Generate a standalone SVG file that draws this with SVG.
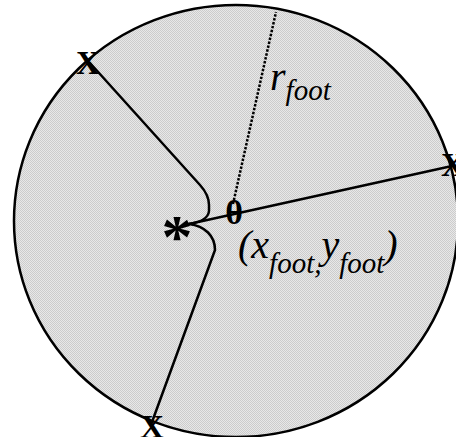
<svg xmlns="http://www.w3.org/2000/svg" width="456" height="437" viewBox="0 0 456 437">
<defs>
<pattern id="dots" width="2" height="2" patternUnits="userSpaceOnUse">
<rect width="2" height="2" fill="#e8e8e8"/>
<rect width="1" height="1" fill="#cccccc"/>
<rect x="1" y="1" width="1" height="1" fill="#cccccc"/>
</pattern>
<style>
.edge{fill:none;stroke:#000;stroke-width:2.5;stroke-linejoin:round;stroke-linecap:round}
.dot{fill:none;stroke:#000;stroke-width:2.5;stroke-dasharray:2.5 1.5}
.mark{font-family:"Liberation Serif","Times New Roman",serif;font-weight:bold;fill:#000;text-anchor:middle}
.lbl{font-family:"Liberation Serif","Times New Roman",serif;font-style:italic;fill:#000}
</style>
</defs>
<rect width="456" height="437" fill="#fff"/>
<g id="foot">
<ellipse cx="236" cy="221" rx="222" ry="216" fill="url(#dots)" stroke="#000" stroke-width="2.5"/>
</g>
<g id="connectors">
<path class="edge" d="M 90 63 L 200 185 Q 209 195 209 205 L 209 211 Q 208 221 189 224"/>
<path class="edge" d="M 189 224 C 205 226 215 236 215 250 L 152 422"/>
<path class="edge" d="M 189 224 L 452 166"/>
<path class="dot" d="M 233 204 L 276 12"/>
</g>
<g id="x1"><text class="mark" x="88" y="74" font-size="33">X</text></g>
<g id="x2"><text class="mark" x="453" y="176" font-size="33">X</text></g>
<g id="x3"><text class="mark" x="152" y="438" font-size="33">X</text></g>
<g id="star"><text class="mark" x="177" y="257" font-size="62">*</text></g>
<g id="center"><text class="mark" x="234" y="224" font-size="34">θ</text></g>
<g id="r-label"><text class="lbl" x="270" y="90" font-size="40">r<tspan font-size="29" dy="10">foot</tspan></text></g>
<g id="xy-label"><text class="lbl" x="238" y="258" font-size="40">(x<tspan font-size="29" dy="15">foot,</tspan><tspan dy="-15">y</tspan><tspan font-size="29" dy="15">foot</tspan><tspan dy="-15">)</tspan></text></g>
</svg>
